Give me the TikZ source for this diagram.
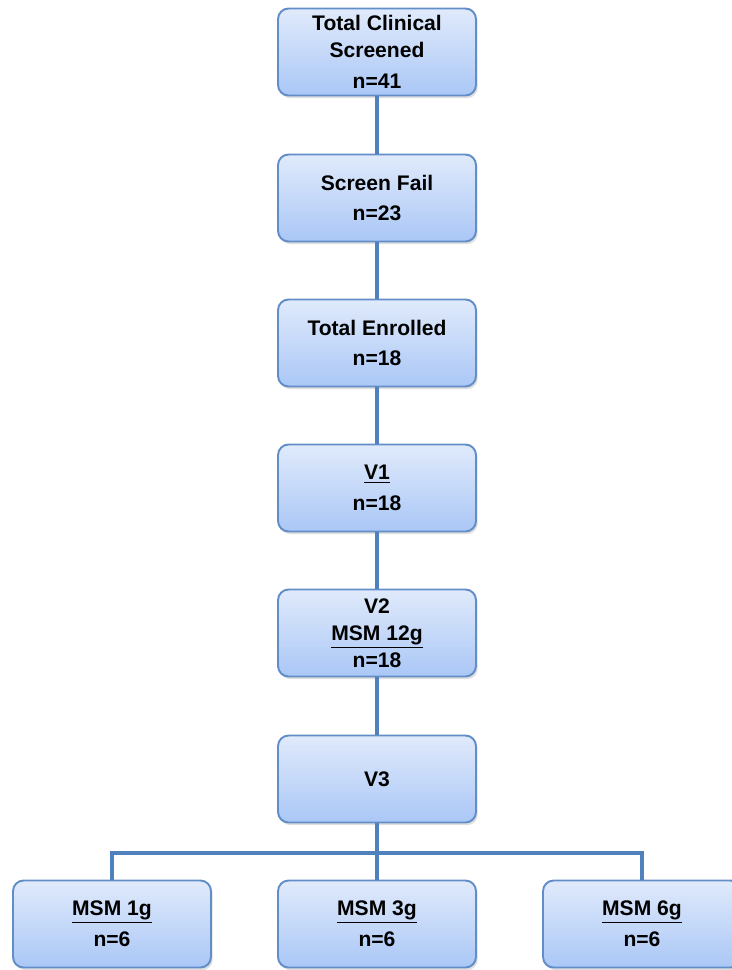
\documentclass[tikz,border=0pt]{standalone}
\usepackage{fontspec}
\setmainfont{Liberation Sans}
\usetikzlibrary{shadows}

\definecolor{boxline}{RGB}{98,142,200}
\definecolor{linkblue}{RGB}{79,129,189}
\definecolor{boxtop}{RGB}{224,234,251}
\definecolor{boxbot}{RGB}{170,199,246}

\tikzset{
	flowbox/.style={draw=boxline, line width=1.1pt, rounded corners=6pt,
		top color=boxtop, bottom color=boxbot,
		minimum width=3.96cm, minimum height=1.74cm, inner sep=1pt,
		align=center, font=\fontsize{12}{15.5}\selectfont\bfseries,
		drop shadow={shadow xshift=1pt, shadow yshift=-1.5pt, opacity=0.25}},
	link/.style={draw=linkblue, line width=2pt}
}

\begin{document}
\begin{tikzpicture}[x=0.02cm, y=-0.02cm]
	
	\useasboundingbox (0,0) rectangle (732,970);
	
	%//main column
	\node[flowbox] (screened) at (377,52) {Total Clinical\\Screened\\[2pt]n=41};
	\node[flowbox] (fail) at (377,198) {Screen Fail\\[2pt]n=23};
	\node[flowbox] (enrolled) at (377,343) {Total Enrolled\\[2pt]n=18};
	\node[flowbox] (vone) at (377,488) {\underline{V1}\\[2pt]n=18};
	\node[flowbox] (vtwo) at (377,633) {V2\\\underline{MSM 12g}\\n=18};
	\node[flowbox] (vthree) at (377,779) {V3};
	
	%//dose groups
	\node[flowbox] (msmone) at (112,924) {\underline{MSM 1g}\\[2pt]n=6};
	\node[flowbox] (msmthree) at (377,924) {\underline{MSM 3g}\\[2pt]n=6};
	\node[flowbox] (msmsix) at (642,924) {\underline{MSM 6g}\\[2pt]n=6};
	
	\coordinate (split) at (377,853);
	
	\draw[link] (screened) -- (fail);
	\draw[link] (fail) -- (enrolled);
	\draw[link] (enrolled) -- (vone);
	\draw[link] (vone) -- (vtwo);
	\draw[link] (vtwo) -- (vthree);
	\draw[link] (vthree) -- (split);
	\draw[link] (split) -| (msmone);
	\draw[link] (split) -- (msmthree);
	\draw[link] (split) -| (msmsix);
	
\end{tikzpicture}
\end{document}
